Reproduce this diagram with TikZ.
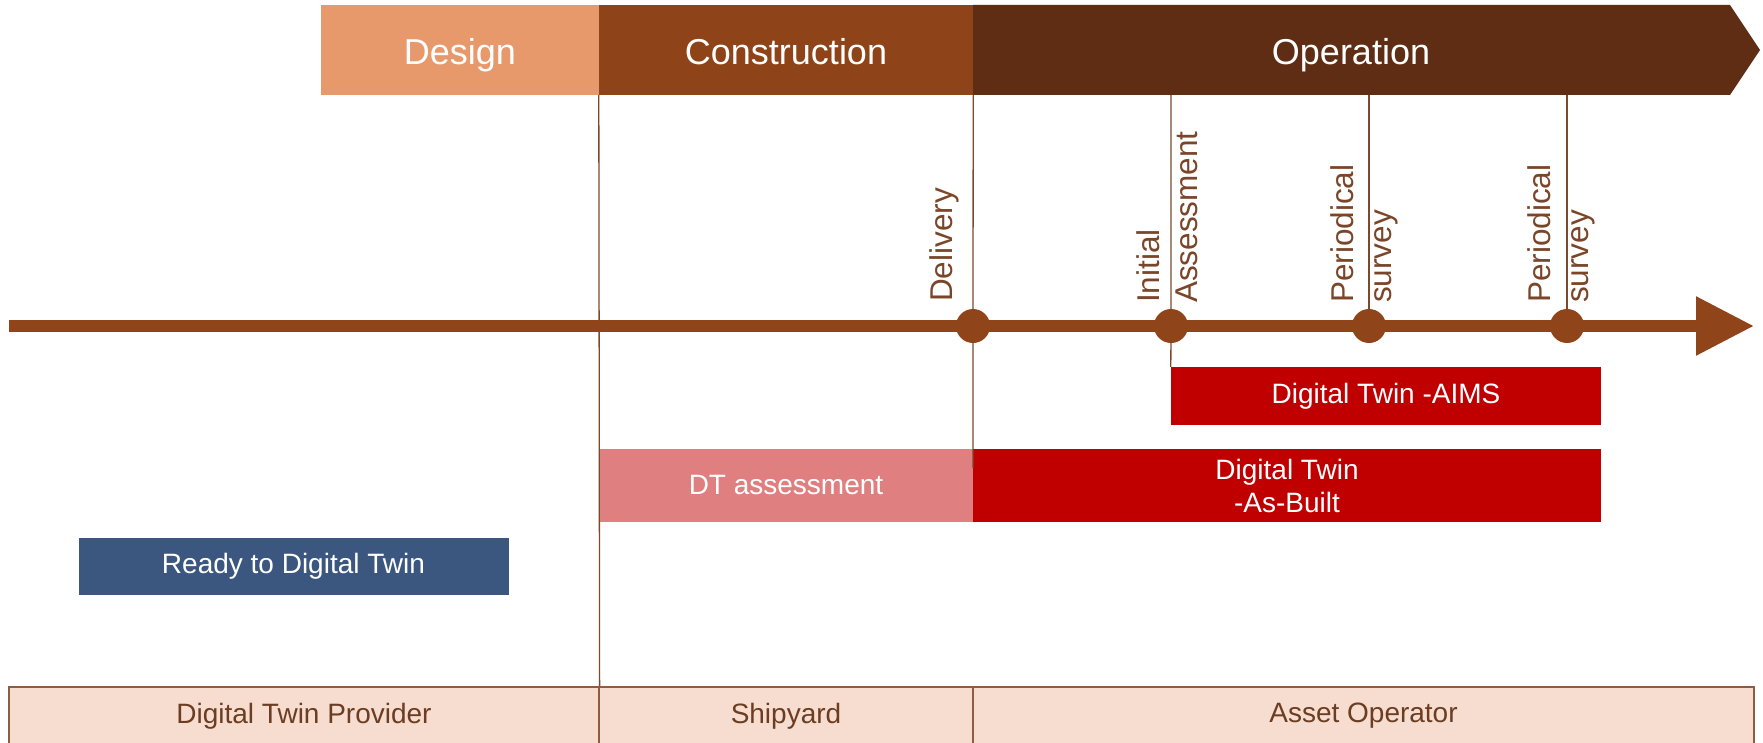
\documentclass[tikz,border=0pt]{standalone}
\usepackage{fontspec}
\setmainfont{Liberation Sans}
\usetikzlibrary{arrows.meta}
\definecolor{designc}{HTML}{E8996B}
\definecolor{constc}{HTML}{8F4318}
\definecolor{operc}{HTML}{5F2D13}
\definecolor{timec}{HTML}{8F4519}
\definecolor{linec}{HTML}{7B4A2E}
\definecolor{labelc}{HTML}{7A4528}
\definecolor{twinc}{HTML}{C00000}
\definecolor{assessc}{HTML}{DF7F7F}
\definecolor{readyc}{HTML}{3B5780}
\definecolor{bandc}{HTML}{F7DDCF}
\definecolor{bandline}{HTML}{8B5E44}
\definecolor{bandtext}{HTML}{6B3D22}

\begin{document}
\begin{tikzpicture}[x=1pt,y=-1pt,
  phase/.style={rectangle,inner sep=0,minimum height=90,text height=30,text depth=0,text=white,font=\fontsize{36}{40}\selectfont},
  bar/.style={rectangle,inner sep=0,text=white,align=center,font=\fontsize{28}{33}\selectfont},
  party/.style={rectangle,draw=bandline,fill=bandc,line width=1.2,inner sep=0,minimum height=58,text=bandtext,font=\fontsize{28}{33}\selectfont},
  milestone/.style={circle,fill=timec,inner sep=0,minimum size=34},
  event/.style={rotate=90,anchor=west,align=left,inner sep=0,text=labelc,font=\fontsize{31.5}{38}\selectfont},
  vline/.style={draw=linec,line width=1.3}]
  \useasboundingbox (0,0) rectangle (1763,743);
  \node[phase,fill=designc,minimum width=278] (design) at (460,50) {Design};
  \node[phase,fill=constc,minimum width=374] (constr) at (786,50) {Construction};
  \fill[operc] (973,5) -- (1730,5) -- (1760,50) -- (1730,95) -- (973,95) -- cycle;
  \node[phase] (oper) at (1351,50) {Operation};
  \node[party,minimum width=590] (provider) at (304,716) {Digital Twin Provider};
  \node[party,minimum width=374] (yard) at (786,716) {Shipyard};
  \node[party,minimum width=781] (operator) at (1363.5,716) {Asset Operator};
  \draw[vline] (constr.south west) -- (provider.north east);
  \coordinate (tstart) at (9,326);
  \coordinate (tend) at (1754,326);
  \coordinate (dlvend) at (973,468);
  \draw[timec,line width=12,-{Triangle[length=58pt,width=56pt]}] (tstart) -- (tend);
  \node[milestone] (dlv) at (973,326) {};
  \node[milestone] (ini) at (1171,326) {};
  \node[milestone] (ps1) at (1369,326) {};
  \node[milestone] (ps2) at (1567,326) {};
  \node[bar,fill=readyc,minimum width=430,minimum height=57] (ready) at (293.5,566.5) {Ready to Digital Twin};
  \node[bar,fill=assessc,minimum width=373,minimum height=73] (dtassess) at (786,485.5) {DT assessment};
  \node[bar,fill=twinc,minimum width=628,minimum height=73] (asbuilt) at (1287,485.5) {Digital Twin\\-As-Built};
  \node[bar,fill=twinc,minimum width=430,minimum height=58] (aims) at (1386,396) {Digital Twin -AIMS};
  \draw[vline] (constr.south east) -- (dlv) -- (dlvend);
  \draw[vline] (ini |- oper.south) -- (ini) -- (aims.north west);
  \draw[vline] (ps1 |- oper.south) -- (ps1);
  \draw[vline] (ps2 |- oper.south) -- (ps2);
  \node[event] (lbdlv) at (944,302) {Delivery};
  \node[event] (lbini) at (1167,303) {Initial\\Assessment};
  \node[event] (lbps1) at (1364,303) {Periodical\\survey};
  \node[event] (lbps2) at (1561,303) {Periodical\\survey};
\end{tikzpicture}
\end{document}
